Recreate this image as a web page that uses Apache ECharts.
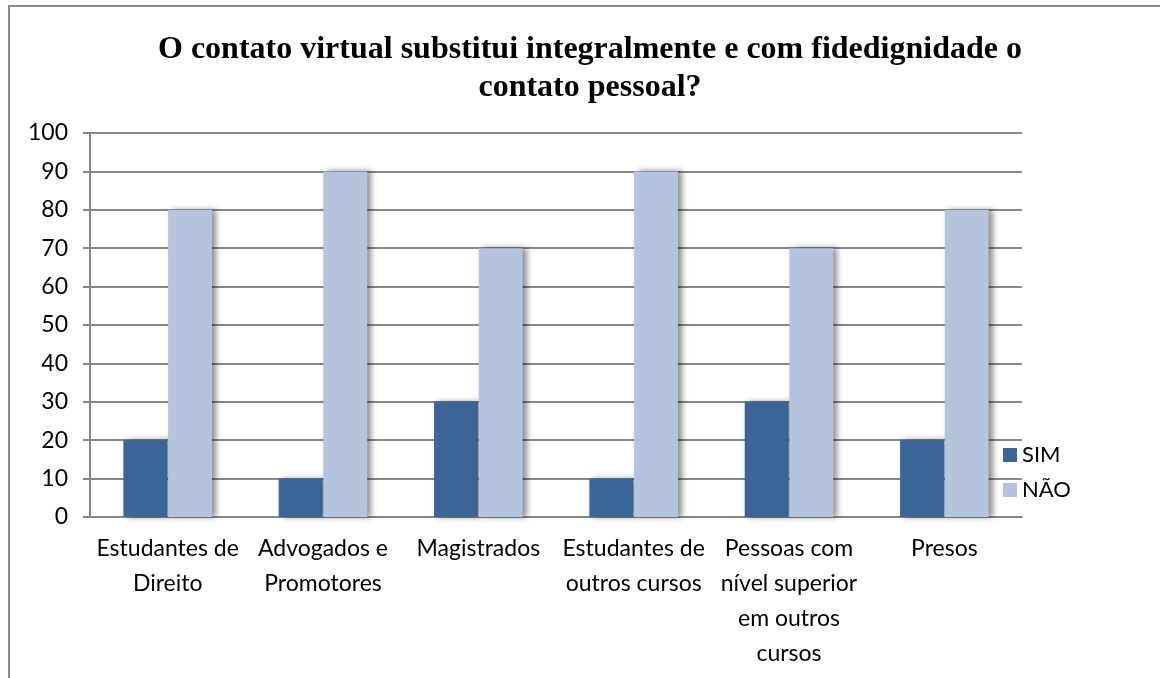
<!DOCTYPE html>
<html>
<head>
<meta charset="utf-8">
<script src="https://cdn.jsdelivr.net/npm/echarts@6/dist/echarts.min.js"></script>
<style>
  html, body { margin: 0; padding: 0; background: #fff; }
  #main { width: 1160px; height: 678px; }
</style>
</head>
<body>
<div id="main"></div>
<script>
// dados do grafico
var categorias = [
  'Estudantes de\nDireito',
  'Advogados e\nPromotores',
  'Magistrados',
  'Estudantes de\noutros cursos',
  'Pessoas com\nnível superior\nem outros\ncursos',
  'Presos'
];
var sim = [20, 10, 30, 10, 30, 20];
var nao = [80, 90, 70, 90, 70, 80];
var yTicks = [0, 10, 20, 30, 40, 50, 60, 70, 80, 90, 100];

var myChart = echarts.init(document.getElementById('main'));
var option;

var sombra = {
  shadowColor: 'rgba(0,0,0,0.45)',
  shadowBlur: 6,
  shadowOffsetX: 4,
  shadowOffsetY: 0
};

option = {
  animation: false,
  backgroundColor: '#fff',
  graphic: [
    {
      type: 'rect',
      shape: { x: 9, y: 6, width: 1300, height: 800 },
      style: { fill: 'none', stroke: '#8a8a8a', lineWidth: 2 },
      silent: true
    }
  ],
  title: {
    text: 'O contato virtual substitui integralmente e com fidedignidade o\ncontato pessoal?',
    left: 585,
    textAlign: 'center',
    top: 26,
    textStyle: {
      fontFamily: 'Liberation Serif',
      fontWeight: 'bold',
      fontSize: 32,
      lineHeight: 38,
      color: '#000'
    }
  },
  legend: {
    orient: 'vertical',
    left: 998,
    top: 439,
    itemWidth: 14,
    itemHeight: 14,
    itemGap: 13,
    icon: 'rect',
    textStyle: { fontFamily: 'Lato', fontSize: 22, color: '#000' },
    data: ['SIM', 'NÃO']
  },
  grid: {
    left: 90,
    right: 138,
    top: 133,
    bottom: 161,
    containLabel: false
  },
  xAxis: {
    type: 'category',
    data: categorias,
    axisLine: { lineStyle: { color: '#888', width: 2 } },
    axisTick: { show: false },
    axisLabel: {
      interval: 0,
      margin: 14,
      fontFamily: 'Lato',
      fontSize: 23,
      lineHeight: 35,
      color: '#000'
    }
  },
  yAxis: {
    type: 'value',
    min: 0,
    max: 100,
    interval: 10,
    axisLine: { show: true, lineStyle: { color: '#888', width: 2 } },
    axisTick: { show: true, length: 7, lineStyle: { color: '#888', width: 2 } },
    splitLine: { lineStyle: { color: '#888', width: 2 } },
    axisLabel: {
      margin: 22,
      fontFamily: 'Lato',
      fontSize: 23,
      color: '#000',
      formatter: function (v) {
        return yTicks.indexOf(v) >= 0 ? String(v) : '';
      }
    }
  },
  series: [
    {
      name: 'SIM',
      type: 'bar',
      data: sim,
      barGap: '2%',
      barCategoryGap: '43%',
      itemStyle: Object.assign({ color: '#3b6497' }, sombra)
    },
    {
      name: 'NÃO',
      type: 'bar',
      data: nao,
      itemStyle: Object.assign({ color: '#b4c4df' }, sombra)
    }
  ]
};

myChart.setOption(option);
</script>
</body>
</html>
